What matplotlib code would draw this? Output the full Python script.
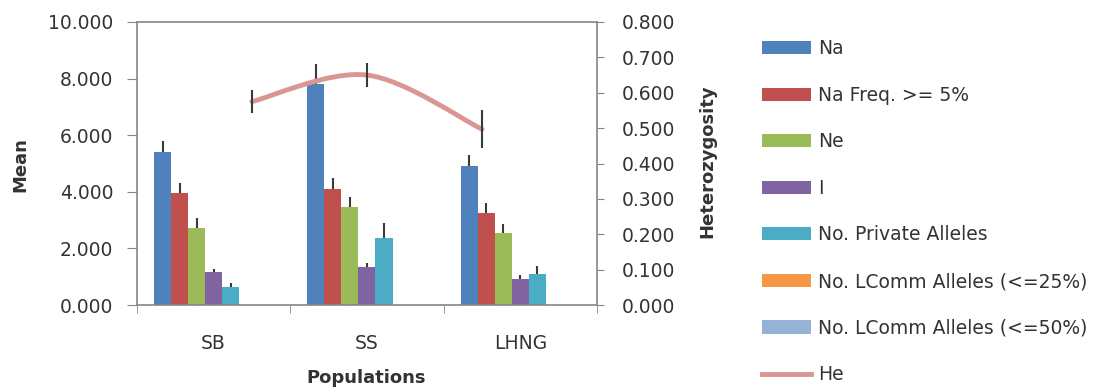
import numpy as np
import matplotlib
matplotlib.use('Agg')
import matplotlib.pyplot as plt
from matplotlib.path import Path
from matplotlib.patches import PathPatch, Patch
from matplotlib.lines import Line2D
from matplotlib.ticker import FormatStrFormatter, FixedLocator

# 数据
populations = ['SB', 'SS', 'LHNG']
series_names = ['Na', 'Na Freq. >= 5%', 'Ne', 'I', 'No. Private Alleles',
                'No. LComm Alleles (<=25%)', 'No. LComm Alleles (<=50%)']
na = [5.39, 7.80, 4.91]
na_freq5 = [3.97, 4.09, 3.26]
ne = [2.73, 3.47, 2.53]
info_i = [1.16, 1.35, 0.92]
private_alleles = [0.62, 2.36, 1.10]
lcomm_25 = [0.0, 0.0, 0.0]
lcomm_50 = [0.0, 0.0, 0.0]
na_err = [0.41, 0.72, 0.39]
na_freq5_err = [0.35, 0.41, 0.35]
ne_err = [0.33, 0.35, 0.33]
info_i_err = [0.10, 0.14, 0.14]
private_err = [0.14, 0.55, 0.28]
lcomm_25_err = [0.0, 0.0, 0.0]
lcomm_50_err = [0.0, 0.0, 0.0]
he = [0.575, 0.650, 0.497]
he_err = [0.033, 0.034, 0.053]

values = [na, na_freq5, ne, info_i, private_alleles, lcomm_25, lcomm_50]
errors = [na_err, na_freq5_err, ne_err, info_i_err, private_err, lcomm_25_err, lcomm_50_err]
colors = ['#4F81BD', '#C0504D', '#9BBB59', '#8064A2', '#4BACC6', '#F79646', '#95B3D7']
he_color = '#D99694'
txt = '#333333'
grey = '#868686'

plt.rcParams['font.family'] = ['DejaVu Sans']
fig = plt.figure(figsize=(11.08, 3.88), dpi=100)
ax = fig.add_axes([0.1236, 0.2139, 0.4152, 0.7294])

x = np.arange(len(populations))
w = 1 / 9
for i, (vals, errs, c) in enumerate(zip(values, errors, colors)):
    pos = x + (i - 3) * w
    ax.bar(pos, vals, width=w, color=c, linewidth=0, zorder=2)
    if max(vals) > 0:
        ax.errorbar(pos, vals, yerr=[np.zeros(len(errs)), errs], fmt='none',
                    ecolor='#3a3a3a', elinewidth=1.5, capsize=0, zorder=3)

ax.set_xlim(-0.5, 2.5)
ax.set_ylim(0, 10)
ax.set_yticks(np.arange(0, 10.01, 2))
ax.yaxis.set_major_formatter(FormatStrFormatter('%.3f'))
ax.set_xticks(x)
ax.set_xticklabels(populations)
ax.xaxis.set_minor_locator(FixedLocator([-0.5, 0.5, 1.5, 2.5]))
ax.tick_params(axis='x', which='major', length=0, pad=21, labelsize=13.5, labelcolor=txt)
ax.tick_params(axis='x', which='minor', length=6, color=grey, direction='out')
ax.tick_params(axis='y', length=7, color=grey, labelsize=13.5, labelcolor=txt, pad=10)
for s in ax.spines.values():
    s.set_color(grey)
    s.set_linewidth(1.2)

# 次坐标轴：Excel 把折线放在 1/4, 2/4, 3/4 处
ax2 = fig.add_axes(ax.get_position(), frameon=False)
ax2.set_xlim(-1, 3)
ax2.set_ylim(0, 0.8)
ax2.xaxis.set_visible(False)
ax2.yaxis.tick_right()
ax2.set_yticks(np.arange(0, 0.801, 0.1))
ax2.yaxis.set_major_formatter(FormatStrFormatter('%.3f'))
ax2.tick_params(axis='y', length=5, color=grey, labelsize=13.5, labelcolor=txt, pad=13)

# 平滑曲线（Catmull-Rom 转 Bezier）
px = list(x.astype(float))
py = list(he)
verts = [(px[0], py[0])]
codes = [Path.MOVETO]
n = len(px)
for k in range(n - 1):
    p0 = (px[max(k - 1, 0)], py[max(k - 1, 0)])
    p1 = (px[k], py[k])
    p2 = (px[k + 1], py[k + 1])
    p3 = (px[min(k + 2, n - 1)], py[min(k + 2, n - 1)])
    c1 = (p1[0] + (p2[0] - p0[0]) / 6, p1[1] + (p2[1] - p0[1]) / 6)
    c2 = (p2[0] - (p3[0] - p1[0]) / 6, p2[1] - (p3[1] - p1[1]) / 6)
    verts += [c1, c2, p2]
    codes += [Path.CURVE4] * 3
ax2.add_patch(PathPatch(Path(verts, codes), fill=False, edgecolor=he_color,
                        linewidth=3.5, zorder=4, capstyle='round'))
ax2.errorbar(x, he, yerr=he_err, fmt='none', ecolor='#3a3a3a', elinewidth=1.5,
             capsize=0, zorder=5)

fig.text(0.018, 0.575, 'Mean', rotation=90, ha='center', va='center',
         fontsize=13, fontweight='bold', color=txt)
fig.text(0.638, 0.585, 'Heterozygosity', rotation=90, ha='center', va='center',
         fontsize=13, fontweight='bold', color=txt)
fig.text(0.330, 0.026, 'Populations', ha='center', va='center',
         fontsize=13, fontweight='bold', color=txt)

handles = [Patch(facecolor=c, edgecolor='none') for c in colors]
handles.append(Line2D([0], [0], color=he_color, linewidth=3.5))
labels = series_names + ['He']
fig.legend(handles, labels, loc='upper left', bbox_to_anchor=(0.6877, 0.899),
           frameon=False, fontsize=13.5, handlelength=2.6, handleheight=0.7,
           handletextpad=0.37, labelspacing=1.47, borderaxespad=0, borderpad=0,
           labelcolor=txt)

plt.savefig('out.png', dpi=100)
